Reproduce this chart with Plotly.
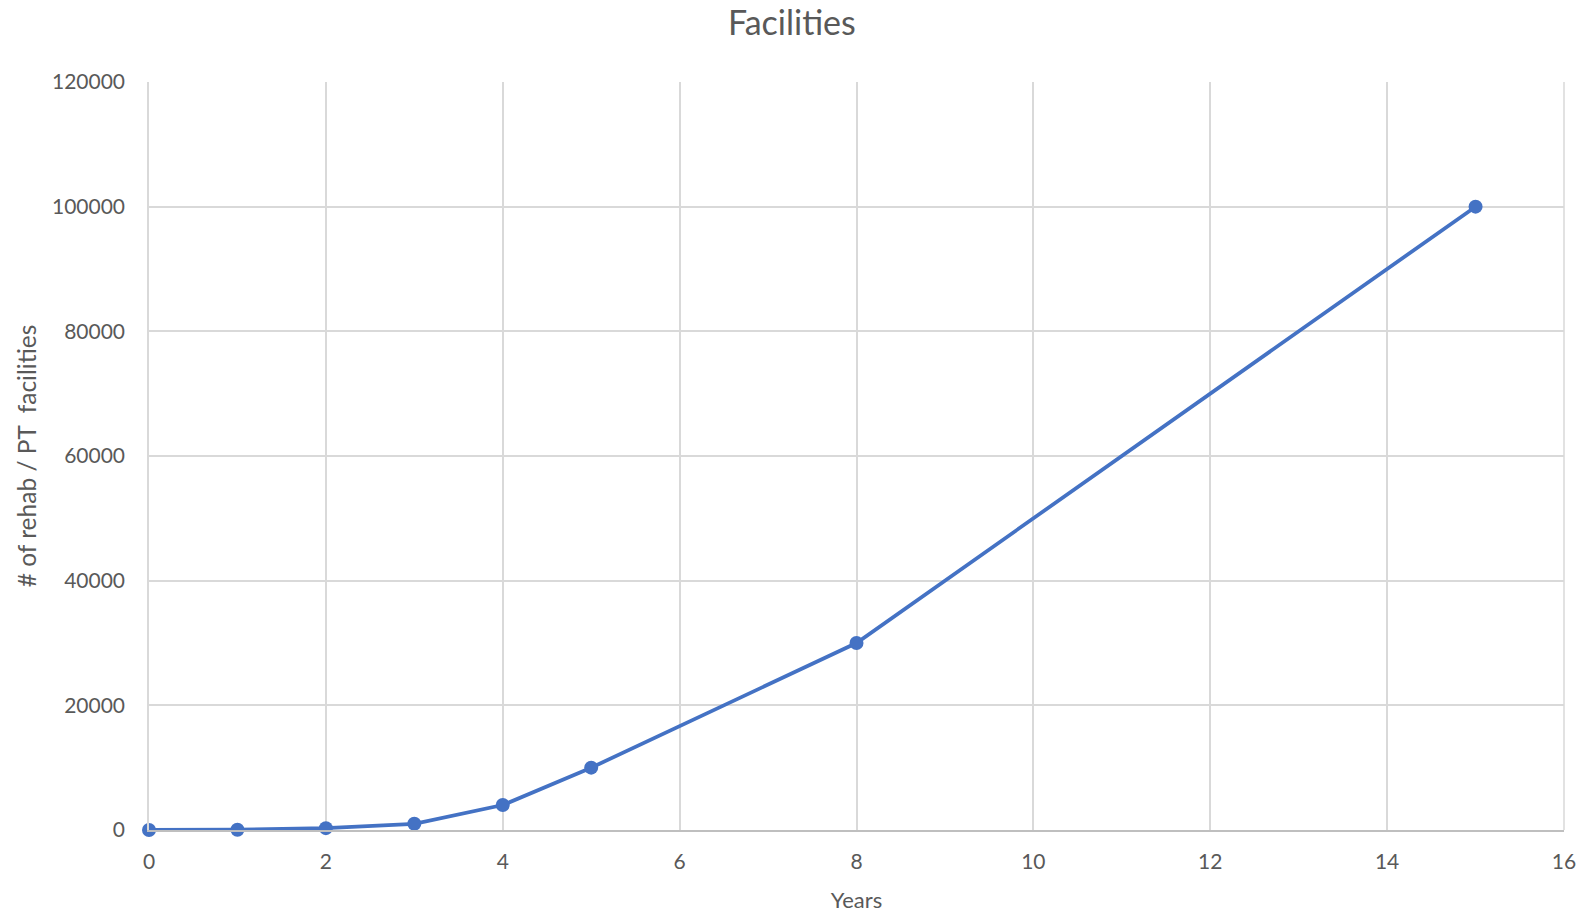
import plotly.graph_objects as go

years = [0, 1, 2, 3, 4, 5, 8, 15]
facilities = [0, 50, 300, 1000, 4000, 10000, 30000, 100000]

fig = go.Figure()
fig.add_trace(go.Scatter(
    x=years, y=facilities, mode="lines+markers",
    line=dict(color="#4472C4", width=3.75),
    marker=dict(color="#4472C4", size=14),
    showlegend=False,
    cliponaxis=False,
))

font = "Lato, 'Open Sans', sans-serif"
fig.update_layout(
    width=1580, height=910,
    margin=dict(l=141, r=24, t=74, b=88),
    paper_bgcolor="white", plot_bgcolor="white",
    title=dict(text="Facilities", x=0.4961, xanchor="center",
               y=1 - 15 / 910, yanchor="middle",
               font=dict(family=font, size=34, color="#595959")),
    font=dict(family=font, color="#595959", size=21),
)
fig.update_xaxes(
    range=[0, 16], dtick=2, tick0=0, automargin=False,
    showgrid=True, gridcolor="#D9D9D9", gridwidth=1.5,
    showline=True, linecolor="#BFBFBF", linewidth=2, mirror=False,
    zeroline=False, ticks="", ticklabelstandoff=12,
    tickfont=dict(family=font, size=21, color="#595959"),
    title=dict(text="Years", font=dict(family=font, size=22, color="#595959"), standoff=20),
)
fig.update_yaxes(
    range=[0, 120000], dtick=20000, automargin=False,
    showgrid=True, gridcolor="#D9D9D9", gridwidth=1.5,
    showline=True, linecolor="#D9D9D9", linewidth=1.5,
    zeroline=False, ticks="", tickformat="d", ticklabelstandoff=18,
    tickfont=dict(family=font, size=21, color="#595959"),
    title=dict(text="# of rehab / PT  facilities", font=dict(family=font, size=24.5, color="#595959"), standoff=8),
)
fig.update_layout(shapes=[dict(type="line", xref="paper", yref="paper", x0=1, x1=1, y0=0, y1=1,
                               line=dict(color="#D9D9D9", width=1.5), layer="below")])

fig.write_html("out.html")
